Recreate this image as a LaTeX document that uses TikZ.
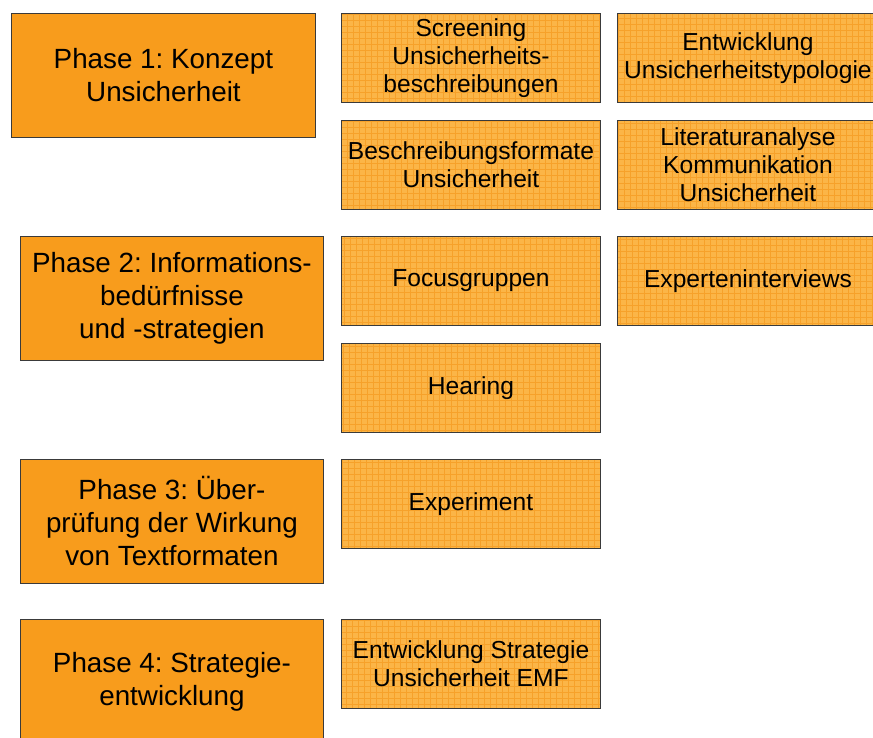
\documentclass[tikz,border=0pt]{standalone}
\usepackage{fontspec}
\setmainfont{Liberation Sans}
\frenchspacing
\definecolor{phasefill}{HTML}{F89C1C}
\definecolor{cellfill}{HTML}{FBB547}
\definecolor{gridline}{HTML}{F6A12A}
\definecolor{bordercol}{HTML}{3A3A3A}
\tikzset{
  phasebox/.style={rectangle, draw=bordercol, line width=0.9pt, fill=phasefill,
    anchor=north west, minimum width=303pt, minimum height=124pt, inner sep=0pt,
    align=center, font=\fontsize{27.8}{33}\selectfont},
  taskbox/.style={rectangle, draw=bordercol, line width=0.9pt, fill=cellfill,
    anchor=north west, minimum width=259pt, minimum height=89pt, inner sep=0pt,
    align=center, font=\fontsize{24.6}{28}\selectfont,
    path picture={\draw[gridline, line width=0.8pt, step=6pt]
      (path picture bounding box.south west) grid (path picture bounding box.north east);}}
}
\begin{document}
\begin{tikzpicture}[x=1pt,y=-1pt]
\useasboundingbox (0,0) rectangle (873,738);
\clip (0,0) rectangle (873,738);
\fill[white] (0,0) rectangle (873,738);
% phases
\node[phasebox, minimum width=304pt] (p1) at (11,13) {Phase 1: Konzept\\Unsicherheit};
\node[phasebox] (p2) at (20,236) {Phase 2: Informations-\\bedürfnisse\\und -strategien};
\node[phasebox] (p3) at (20,459) {Phase 3: Über-\\prüfung der Wirkung\\von Textformaten};
\node[phasebox] (p4) at (20,619) {Phase 4: Strategie-\\entwicklung};
% column 1
\node[taskbox] (a1) at (341,13) {Screening\\Unsicherheits-\\beschreibungen};
\node[taskbox] (a2) at (341,120) {Beschreibungsformate\\Unsicherheit};
\node[taskbox] (a3) at (341,236) {Focusgruppen};
\node[taskbox] (a4) at (341,343) {Hearing};
\node[taskbox] (a5) at (341,459) {Experiment};
\node[taskbox] (a6) at (341,619) {Entwicklung Strategie\\Unsicherheit EMF};
% column 2
\node[taskbox, minimum width=261pt] (b1) at (617,13) {Entwicklung\\Unsicherheitstypologie};
\node[taskbox, minimum width=261pt] (b2) at (617,120) {Literaturanalyse\\Kommunikation\\Unsicherheit};
\node[taskbox, minimum width=261pt] (b3) at (617,236) {Experteninterviews};
\end{tikzpicture}
\end{document}
